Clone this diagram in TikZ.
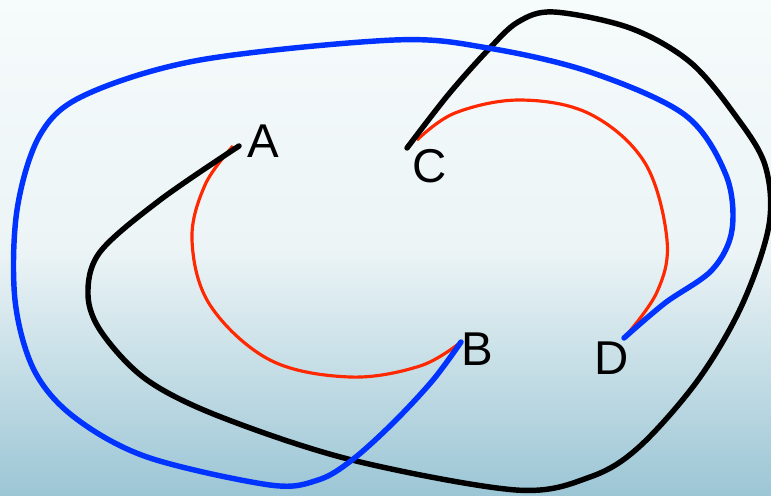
\documentclass[tikz,border=0pt]{standalone}
\usepackage{fontspec}
\setmainfont{Liberation Sans}
\usepackage{xcolor}
\usepackage{tikz}
\usetikzlibrary{arrows.meta,positioning,calc}

\definecolor{bgtop}{RGB}{246,251,251}
\definecolor{bgmid}{RGB}{236,244,246}
\definecolor{bglow}{RGB}{205,228,235}
\definecolor{bgbot}{RGB}{156,198,213}
\definecolor{arcred}{RGB}{255,40,0}
\definecolor{loopblue}{RGB}{0,51,255}

\begin{document}
\begin{tikzpicture}[
    x=0.02cm, y=-0.02cm,
    redarc/.style={draw=arcred, line width=1.8pt},
    blueloop/.style={draw=loopblue, line width=3.1pt, line cap=round},
    blackloop/.style={draw=black, line width=3.1pt, line cap=round},
    endlabel/.style={font=\fontsize{27}{30}\selectfont, inner sep=0pt}
]

% background
\shade[top color=bgtop, bottom color=bgmid] (0,0) rectangle (771,250);
\shade[top color=bgmid, middle color=bglow, bottom color=bgbot] (0,249) rectangle (771,495);
\useasboundingbox (0,0) rectangle (771,495);

% end points
\coordinate (a) at (239,146);
\coordinate (b) at (461,342);
\coordinate (c) at (407,148);
\coordinate (d) at (624,338);

\node[endlabel] (la) at (263,141) {A};
\node[endlabel] (lb) at (477,349) {B};
\node[endlabel] (lc) at (430,166) {C};
\node[endlabel] (ld) at (612,358) {D};

% red arcs
\draw[redarc] plot[smooth, tension=0.6] coordinates {(233,146) (205,185) (192,240) (210,305) (270,360) (350,377) (420,366) (b)};
\draw[redarc] plot[smooth, tension=0.6] coordinates {(417,140) (455,113) (520,100) (590,114) (645,163) (667,240) (657,292) (d)};

% black curve A -> C
\draw[blackloop] plot[smooth, tension=0.55] coordinates {(a) (160,200) (100,252) (88,295) (102,333) (147,380) (221,417) (352,460) (516,490) (590,477) (639,447) (698,380) (742,305) (769,225) (765,165) (735,115) (690,62) (630,28) (554,12) (518,22) (488,50) (448,95) (c)};

% blue curve B -> D
\draw[blueloop] plot[smooth, tension=0.55] coordinates {(b) (433,380) (393,423) (352,460) (318,480) (270,485) (147,457) (74,417) (34,370) (15,300) (17,210) (40,135) (85,95) (200,60) (394,40) (488,48) (590,72) (685,115) (726,175) (732,230) (712,270) (665,303) (d)};

\end{tikzpicture}
\end{document}
